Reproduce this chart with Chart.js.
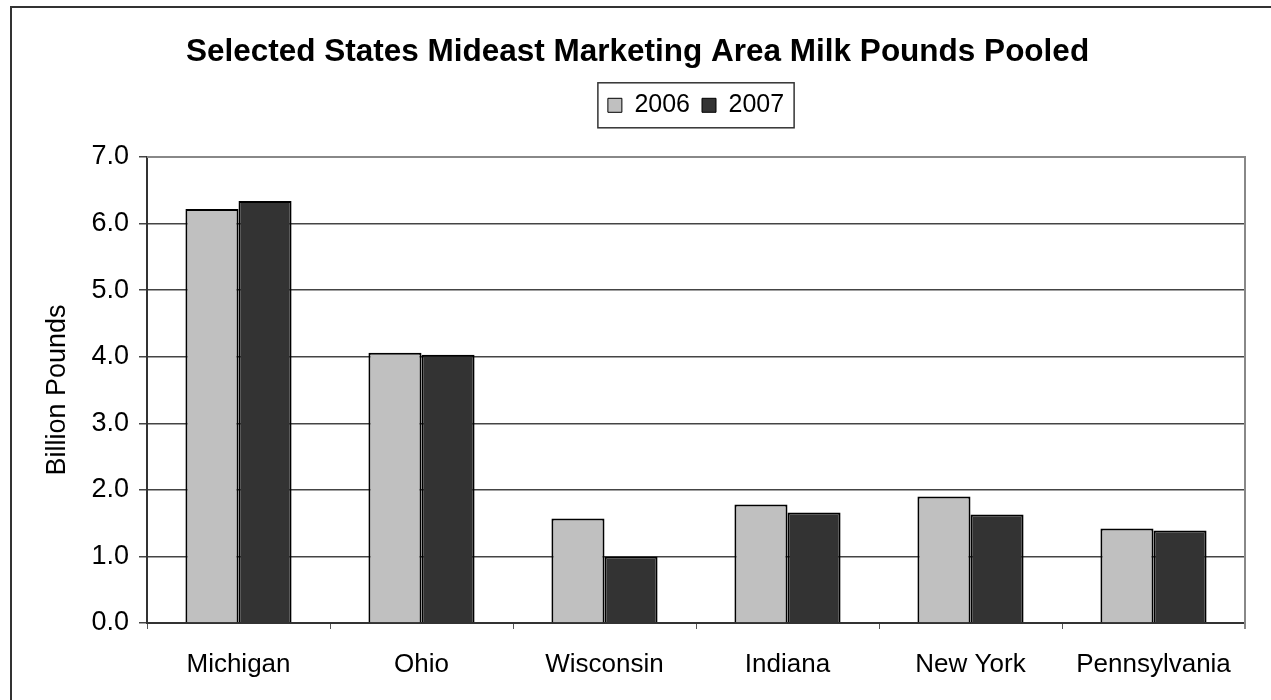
<!DOCTYPE html>
<html>
<head>
<meta charset="utf-8">
<title>Selected States Mideast Marketing Area Milk Pounds Pooled</title>
<script src="https://cdn.jsdelivr.net/npm/chart.js@4.4.1/dist/chart.umd.min.js"></script>
<style>
  html, body { margin: 0; padding: 0; background: #fff; }
  #wrap { width: 1271px; height: 700px; }
</style>
</head>
<body>
<div id="wrap"><canvas id="milk-chart" width="1271" height="700"></canvas></div>
<script>
// Data
const states = ["Michigan", "Ohio", "Wisconsin", "Indiana", "New York", "Pennsylvania"];
const pooled2006 = [6.22, 4.06, 1.57, 1.78, 1.90, 1.42];
const pooled2007 = [6.34, 4.03, 1.00, 1.66, 1.63, 1.39];
const yearLabels = ["2006", "2007"];
const yTicks = [0, 1, 2, 3, 4, 5, 6, 7];

const FONT = "'Liberation Sans', Arial, sans-serif";

// frame round the whole picture, plus the plot box edges and legend box
const framePlugin = {
  id: "frame",
  beforeDraw(chart) {
    const ctx = chart.ctx;
    ctx.save();
    ctx.fillStyle = "#fff";
    ctx.fillRect(0, 0, chart.width, chart.height);
    ctx.strokeStyle = "#333";
    ctx.lineWidth = 2;
    ctx.strokeRect(11, 7, chart.width + 20, chart.height + 20);
    ctx.restore();
  },
  afterDatasetsDraw(chart) {
    const { ctx, chartArea } = chart;
    ctx.save();
    ctx.strokeStyle = "#888";
    ctx.lineWidth = 2;
    ctx.beginPath();
    ctx.moveTo(chartArea.left, chartArea.top);
    ctx.lineTo(chartArea.right, chartArea.top);
    ctx.lineTo(chartArea.right, chartArea.bottom + 6);
    ctx.stroke();
    ctx.restore();
  },
  afterDraw(chart) {
    const boxes = chart.legend && chart.legend.legendHitBoxes;
    if (!boxes || !boxes.length) return;
    const left = Math.min(...boxes.map(b => b.left));
    const right = Math.max(...boxes.map(b => b.left + b.width));
    const top = Math.min(...boxes.map(b => b.top));
    const bottom = Math.max(...boxes.map(b => b.top + b.height));
    const ctx = chart.ctx;
    ctx.save();
    ctx.strokeStyle = "#333";
    ctx.lineWidth = 1.5;
    ctx.strokeRect(left - 10, top - 10, right - left + 20, bottom - top + 20);
    ctx.restore();
  }
};

const milkChart = new Chart(document.getElementById("milk-chart"), {
  type: "bar",
  data: {
    labels: states,
    datasets: [
      { label: yearLabels[0], data: pooled2006, backgroundColor: "#c0c0c0", borderColor: "#000", borderWidth: 2 },
      { label: yearLabels[1], data: pooled2007, backgroundColor: "#333333", borderColor: "#000", borderWidth: 2 }
    ]
  },
  options: {
    responsive: false,
    animation: false,
    devicePixelRatio: 1,
    layout: { padding: { left: 30, right: 26, top: 8, bottom: 0 } },
    datasets: { bar: { barPercentage: 1.0, categoryPercentage: 0.58 } },
    plugins: {
      title: {
        display: true,
        text: "Selected States Mideast Marketing Area Milk Pounds Pooled",
        color: "#000",
        font: { family: FONT, size: 31.5, weight: "bold" },
        padding: { top: 25, bottom: 10 }
      },
      legend: {
        display: true,
        position: "top",
        fullSize: false,
        weight: 1800,
        labels: {
          color: "#000",
          font: { family: FONT, size: 25 },
          boxWidth: 14,
          boxHeight: 14,
          padding: 12,
          generateLabels(chart) {
            return Chart.defaults.plugins.legend.labels.generateLabels(chart)
              .map(item => Object.assign(item, { lineWidth: 1, strokeStyle: "#000" }));
          }
        }
      },
      subtitle: {
        display: true,
        fullSize: false,
        text: "",
        font: { size: 1 },
        padding: { top: 28, bottom: 0 }
      },
      tooltip: { enabled: false }
    },
    scales: {
      x: {
        afterFit(scale) { scale.height = 77; },
        grid: { offset: true, drawOnChartArea: false, drawTicks: true, tickLength: 6, color: "#555", lineWidth: 1 },
        border: { display: true, color: "#333", width: 2 },
        ticks: { color: "#000", font: { family: FONT, size: 26 }, padding: 20, maxRotation: 0 }
      },
      y: {
        min: 0,
        max: 7,
        afterFit(scale) { scale.width = 117; },
        afterBuildTicks(scale) { scale.ticks = yTicks.map(v => ({ value: v })); },
        grid: { color: "#444", lineWidth: 1.5, tickLength: 8 },
        border: { display: true, color: "#333", width: 2 },
        ticks: {
          color: "#000",
          font: { family: FONT, size: 27 },
          padding: 10,
          callback: v => Number(v).toFixed(1)
        },
        title: {
          display: true,
          text: "Billion Pounds",
          color: "#000",
          font: { family: FONT, size: 27 },
          padding: { top: 11, bottom: 0 }
        }
      }
    }
  },
  plugins: [framePlugin]
});
</script>
</body>
</html>
